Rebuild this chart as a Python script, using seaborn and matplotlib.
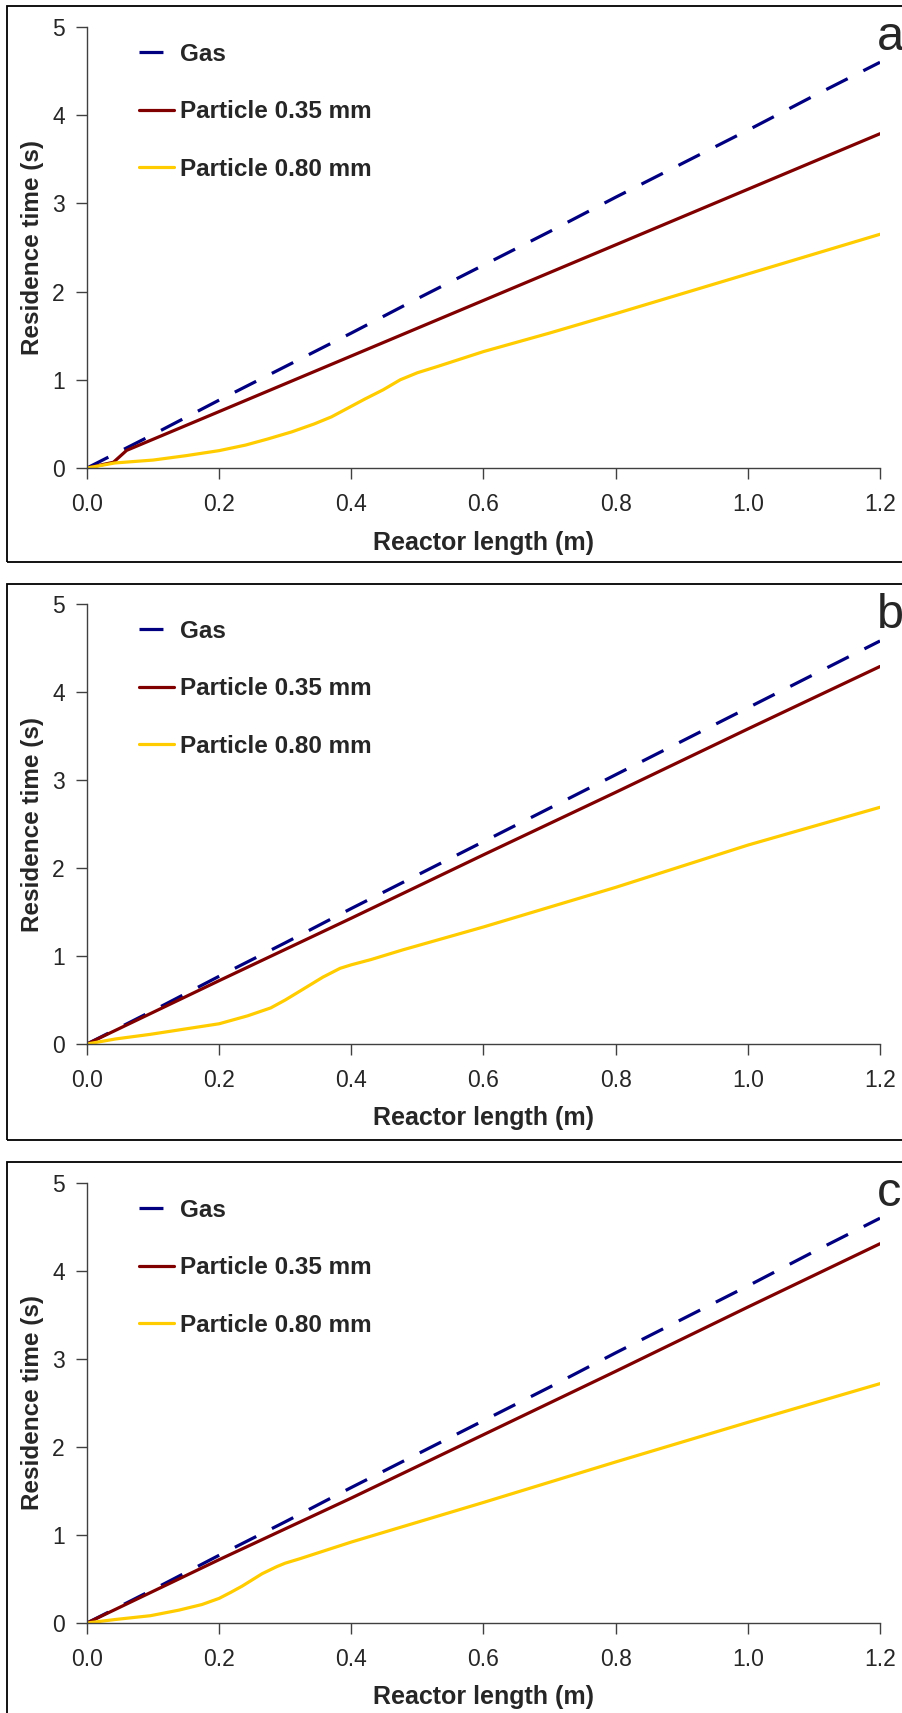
import numpy as np
import matplotlib.pyplot as plt
import seaborn as sns
from matplotlib.patches import Rectangle
from matplotlib.ticker import FormatStrFormatter

sns.set_style("ticks")
plt.rcParams['font.family'] = ['Liberation Sans', 'DejaVu Sans']

# %% Data
gas_x = [0.0, 0.1, 0.2, 0.3, 0.4, 0.5, 0.6, 0.7, 0.8, 0.9, 1.0, 1.1, 1.2]
gas_a = [0.0, 0.38, 0.77, 1.15, 1.53, 1.92, 2.30, 2.68, 3.07, 3.45, 3.83, 4.22, 4.60]
gas_b = [0.0, 0.38, 0.77, 1.15, 1.54, 1.92, 2.30, 2.68, 3.06, 3.44, 3.82, 4.20, 4.58]
gas_c = [0.0, 0.38, 0.77, 1.15, 1.54, 1.92, 2.30, 2.68, 3.07, 3.45, 3.83, 4.22, 4.60]

p35_x_a = [0.0, 0.04, 0.06, 0.2, 0.4, 0.6, 0.8, 1.0, 1.2]
p35_a = [0.0, 0.065, 0.2, 0.64, 1.27, 1.90, 2.53, 3.16, 3.79]
p35_x_bc = [0.0, 0.2, 0.4, 0.6, 0.8, 1.0, 1.2]
p35_b = [0.0, 0.72, 1.43, 2.15, 2.86, 3.58, 4.29]
p35_c = [0.0, 0.72, 1.42, 2.14, 2.86, 3.59, 4.31]

p80_x_a = [0.0, 0.042, 0.1, 0.15, 0.2, 0.24, 0.274, 0.31, 0.344, 0.37, 0.4, 0.42,
           0.448, 0.474, 0.5, 0.53, 0.6, 0.7, 0.8, 1.0, 1.2]
p80_a = [0.0, 0.057, 0.09, 0.14, 0.197, 0.26, 0.33, 0.41, 0.50, 0.58, 0.70, 0.78,
         0.886, 1.0, 1.08, 1.15, 1.32, 1.53, 1.75, 2.2, 2.65]
p80_x_b = [0.0, 0.043, 0.096, 0.148, 0.2, 0.243, 0.278, 0.30, 0.322, 0.357, 0.383,
           0.4, 0.43, 0.478, 0.6, 0.8, 1.0, 1.2]
p80_b = [0.0, 0.057, 0.11, 0.17, 0.23, 0.32, 0.41, 0.50, 0.60, 0.76, 0.86,
         0.90, 0.96, 1.07, 1.33, 1.78, 2.26, 2.69]
p80_x_c = [0.0, 0.043, 0.096, 0.139, 0.174, 0.2, 0.218, 0.235, 0.265, 0.287, 0.30,
           0.322, 0.4, 0.6, 0.8, 1.0, 1.2]
p80_c = [0.0, 0.04, 0.083, 0.146, 0.21, 0.28, 0.35, 0.42, 0.56, 0.64, 0.68,
         0.73, 0.92, 1.37, 1.83, 2.28, 2.72]

panels = [
    ("a", gas_a, p35_x_a, p35_a, p80_x_a, p80_a),
    ("b", gas_b, p35_x_bc, p35_b, p80_x_b, p80_b),
    ("c", gas_c, p35_x_bc, p35_c, p80_x_c, p80_c),
]

W, H = 903, 1713
fig = plt.figure(figsize=(W / 100, H / 100), dpi=100)

# pixel layout: (box top, box bottom, y=5 line, y=0 line)
layout = [(6, 562, 27, 468), (584, 1140, 604, 1044), (1162, 1730, 1183, 1623)]
left_px, right_px = 87, 880

for (letter, gas, x35, y35, x80, y80), (bt, bb, yt, yb) in zip(panels, layout):
    # outer frame of the panel
    fig.add_artist(Rectangle((7 / W, 1 - bb / H), 1.0, (bb - bt) / H,
                             transform=fig.transFigure, fill=False,
                             ec='black', lw=1.3))
    ax = fig.add_axes([left_px / W, 1 - yb / H, (right_px - left_px) / W, (yb - yt) / H])
    ax.set_facecolor('none')

    sns.lineplot(x=gas_x, y=gas, ax=ax, color='#000080', linewidth=2.3,
                 linestyle=(0, (7.5, 5.5)), label='Gas')
    sns.lineplot(x=x35, y=y35, ax=ax, color='#800000', linewidth=2.3,
                 label='Particle 0.35 mm')
    sns.lineplot(x=x80, y=y80, ax=ax, color='#FFCC00', linewidth=2.3,
                 label='Particle 0.80 mm')

    ax.set_xlim(0, 1.2)
    ax.set_ylim(0, 5)
    ax.set_xticks([0.0, 0.2, 0.4, 0.6, 0.8, 1.0, 1.2])
    ax.set_yticks([0, 1, 2, 3, 4, 5])
    ax.xaxis.set_major_formatter(FormatStrFormatter('%.1f'))
    sns.despine(ax=ax)
    for s in ['left', 'bottom']:
        ax.spines[s].set_color('#404040')
        ax.spines[s].set_linewidth(1.0)
    ax.tick_params(axis='both', labelsize=16.5, length=8, width=1.0,
                   color='#404040', direction='out')
    ax.tick_params(axis='x', pad=10)
    ax.tick_params(axis='y', pad=8)

    ax.set_xlabel("Reactor length (m)", fontsize=18, fontweight='bold')
    ax.set_ylabel("Residence time (s)", fontsize=17.5, fontweight='bold')
    ax.xaxis.set_label_coords(0.5, -0.142)
    ax.yaxis.set_label_coords(-0.054, 0.5)

    ax.legend(loc='upper left', bbox_to_anchor=(0.0656, 0.964), frameon=False,
              prop={'size': 17.5, 'weight': 'bold'}, handlelength=1.45,
              handletextpad=0.25, labelspacing=1.42, borderpad=0, borderaxespad=0)

    fig.text(877 / W, 1 - (bt + 44) / H, letter, fontsize=35, ha='left',
             va='baseline')

plt.savefig('out.png', dpi=100)
